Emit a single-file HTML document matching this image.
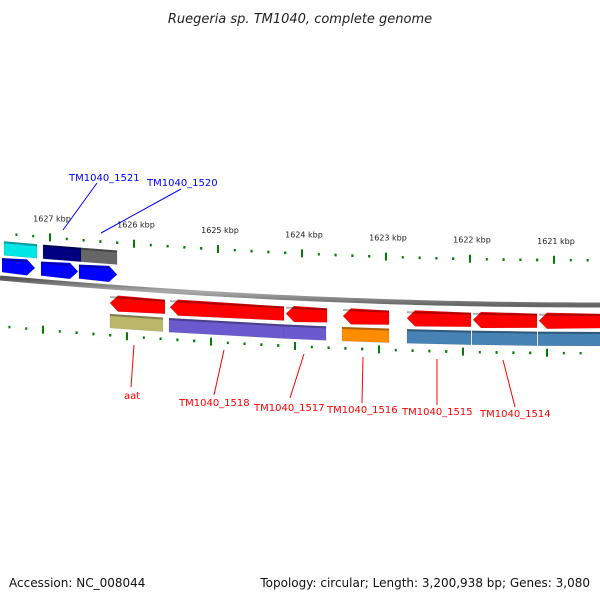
<!DOCTYPE html>
<html><head><meta charset="utf-8"><style>
body{margin:0;background:#fff}
svg{display:block;font-family:"DejaVu Sans","Liberation Sans",sans-serif}
</style></head><body>
<svg id="chart" width="600" height="600" viewBox="0 0 600 600">
<defs>
<linearGradient id="bb" x1="0" y1="0" x2="0" y2="1"><stop offset="0" stop-color="#555"/><stop offset="0.5" stop-color="#aaa"/><stop offset="1" stop-color="#666"/></linearGradient>
</defs>
<text x="300" y="23" text-anchor="middle" font-size="13" font-style="italic" fill="#222">Ruegeria sp. TM1040, complete genome</text>
<g id="ticks"></g><g id="backbone"></g><g id="genes"></g><g id="labels"></g>
<text x="9" y="587" font-size="12" fill="#111">Accession: NC_008044</text>
<text x="590" y="587" text-anchor="end" font-size="12" fill="#111">Topology: circular; Length: 3,200,938 bp; Genes: 3,080</text>
</svg>
<script>
const tickKbp=[1627,1626,1625,1624,1623,1622,1621];
const topGenes=[[1627.571,1627.179,'#0000ff'],[1627.107,1626.667,'#0000ff'],[1626.655,1626.202,'#0000ff']];
const topCog=[[1627.548,1627.155,'#00e5e5'],[1627.083,1626.631,'#000080'],[1626.631,1626.202,'#666666']];
const botGenes=[[1626.286,1625.631,'#ff0000'],[1625.571,1624.214,'#ff0000'],[1624.190,1623.702,'#ff0000'],[1623.512,1622.964,'#ff0000'],[1622.750,1621.988,'#ff0000'],[1621.964,1621.202,'#ff0000'],[1621.179,1620.38,'#ff0000']];
const botCog=[[1626.286,1625.655,'#bdb76b'],[1625.583,1624.214,'#6a5acd'],[1624.214,1623.714,'#6a5acd'],[1623.524,1622.964,'#ff8c00'],[1622.750,1621.988,'#4682b4'],[1621.976,1621.202,'#4682b4'],[1621.190,1620.38,'#4682b4']];
const topLabels=[['TM1040_1521',69,181,97,183,63,230],['TM1040_1520',147,186,181,189,101,233]];
const botLabels=[['aat',124,399,134,345,131,387],['TM1040_1518',179,406,224,350,214,395],['TM1040_1517',254,411,304,354,290,398],['TM1040_1516',327,413,363,357,362,403],['TM1040_1515',402,415,437,359,437,405],['TM1040_1514',480,417,503,360,515,407]];
const NS='http://www.w3.org/2000/svg';
const X=k=>50+(1627-k)*84;
const C=x=>305-27*Math.pow(1-Math.min(x,600)/600,2);
function mk(t,p,a){const e=document.createElementNS(NS,t);for(const k in a)e.setAttribute(k,a[k]);p.appendChild(e);return e;}
const tg=document.getElementById('ticks');
for(let i=0;i<tickKbp.length;i++){
 const k=tickKbp[i];
 for(let j=-3;j<5;j++){
  const x=X(k-j*0.2); if(x<0||x>600)continue;
  const y=C(x)-45, big=j===0;
  const e=mk('rect',tg,{x:x-1,y:big?y-4:y-1,width:2,height:big?8:2.5,fill:'#008000'});
  
  
  const xb=x-7, yb=C(xb)+48;
  const f=mk('rect',tg,{x:xb-1,y:big?yb-4:yb-1,width:2,height:big?8:2.5,fill:'#008000'});
  
  
 }
 const t=mk('text',tg,{x:X(k)+2,y:C(X(k))-61,'font-size':8,'text-anchor':'middle',fill:'#222'});
 t.textContent=k+' kbp';
 
 
}
const bg=document.getElementById('backbone');
let d='';for(let x=0;x<=600;x+=10)d+=(x?'L':'M')+x+','+C(x);
const bl=mk('path',bg,{d:d,stroke:'url(#bb)','stroke-width':5,fill:'none'});


const gg=document.getElementById('genes');
function gene(k1,k2,col,off,dir,name){
 let x1=X(k1),x2=X(k2);const h=14;
 const top=x=>C(x)+off-h/2;
 let pts;
 if(dir===1){const a=x2-8;pts=[[x1,top(x1)],[a,top(a)-1],[x2,top(x2)+h/2],[a,top(a)+h+1],[x1,top(x1)+h]];}
 else if(dir===-1){const a=x1+8;pts=[[x1,top(x1)+h/2],[a,top(a)-1],[x2,top(x2)],[x2,top(x2)+h],[a,top(a)+h+1]];}
 else pts=[[x1,top(x1)],[x2,top(x2)],[x2,top(x2)+h],[x1,top(x1)+h]];
 const p=mk('polygon',gg,{points:pts.map(q=>q.join(',')).join(' '),fill:col,stroke:'rgba(0,0,0,0.15)','stroke-width':0.5});
 
 
 mk('line',gg,{x1:x1,y1:top(x1)+1,x2:dir===1?x2-8:x2,y2:top(dir===1?x2-8:x2)+1,stroke:'rgba(0,0,0,0.3)','stroke-width':2});
}
topGenes.forEach(g=>gene(g[0],g[1],g[2],-13,1,'forward-gene'));
topCog.forEach(g=>gene(g[0],g[1],g[2],-30,0,'forward-cog-box'));
botGenes.forEach(g=>gene(g[0],g[1],g[2],16,-1,'reverse-gene'));
botCog.forEach(g=>gene(g[0],g[1],g[2],34,0,'reverse-cog-box'));
const lg=document.getElementById('labels');
function lab(a,col,name){
 mk('line',lg,{x1:a[3],y1:a[4],x2:a[5],y2:a[6],stroke:col,'stroke-width':1});
 const t=mk('text',lg,{x:a[1],y:a[2],'font-size':10,fill:col});
 t.textContent=a[0];
 
 
}
topLabels.forEach(a=>lab(a,'#0000ff','forward-gene-label'));
botLabels.forEach(a=>lab(a,'#ff0000','reverse-gene-label'));
</script>
</body></html>
